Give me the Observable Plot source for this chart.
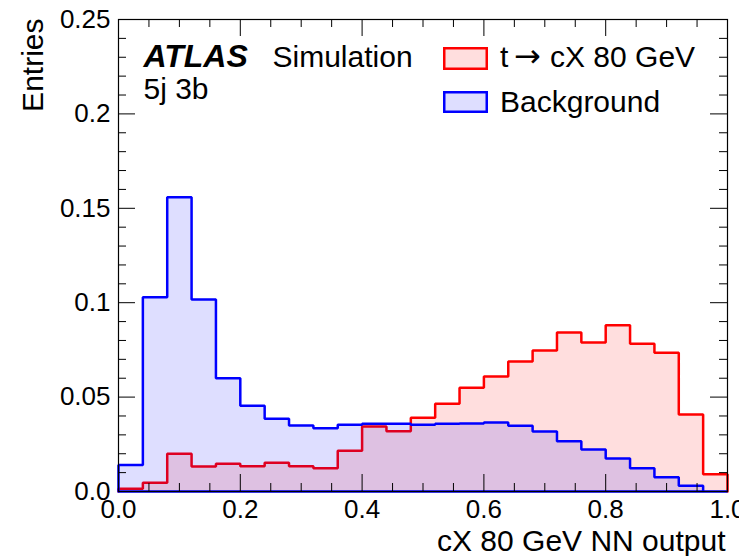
<!DOCTYPE html>
<html><head><meta charset="utf-8">
<script src="https://cdn.jsdelivr.net/npm/d3@7"></script>
<script src="https://cdn.jsdelivr.net/npm/@observablehq/plot@0.6"></script>
<style>
html,body{margin:0;padding:0;background:#fff;}
#chart{width:739px;height:556px;overflow:hidden;}
</style></head><body><div id="chart"></div>
<script>
// ---- data ----
const binLow = [0.00,0.04,0.08,0.12,0.16,0.20,0.24,0.28,0.32,0.36,0.40,0.44,0.48,0.52,0.56,0.60,0.64,0.68,0.72,0.76,0.80,0.84,0.88,0.92,0.96];
const binWidth = 0.04;
const signal = [0.0014,0.0046,0.0200,0.0132,0.0147,0.0134,0.0152,0.0134,0.0123,0.0216,0.0344,0.0319,0.0390,0.0465,0.0549,0.0609,0.0689,0.0747,0.0842,0.0789,0.0881,0.0782,0.0735,0.0408,0.0092];
const background = [0.0141,0.1029,0.1559,0.1017,0.0600,0.0454,0.0385,0.0350,0.0335,0.0353,0.0359,0.0359,0.0353,0.0359,0.0360,0.0365,0.0348,0.0318,0.0266,0.0222,0.0175,0.0123,0.0076,0.0030,0.0];
const seriesNames = [["t", "\u2192", "cX 80 GeV"], ["Background"]];
const xTickValues = [0,0.2,0.4,0.6,0.8,1.0];
const xTickLabels = ["0.0","0.2","0.4","0.6","0.8","1.0"];
const yTickValues = [0,0.05,0.1,0.15,0.2,0.25];
const yTickLabels = ["0.0","0.05","0.1","0.15","0.2","0.25"];
const xMinorStep = 0.05, yMinorStep = 0.01;

// ---- layout ----
const W = 739, H = 556, mL = 118, mR = 12, mT = 19, mB = 65;
const fW = W - mL - mR, fH = H - mT - mB;
const majorLen = 17, minorLen = 8;

function steps(values, close) {
  const pts = [{x: binLow[0], y: 0}];
  values.forEach((v, i) => {
    pts.push({x: binLow[i], y: v});
    pts.push({x: binLow[i] + binWidth, y: v});
  });
  pts.push({x: binLow[binLow.length - 1] + binWidth, y: 0});
  if (close) pts.push({x: binLow[0], y: 0});
  return pts;
}
const sigPts = steps(signal, false);
const bkgPts = steps(background, false);
const bkgLine = steps(background, true);

const xMinor = d3.range(0, 1 + 1e-9, xMinorStep).filter(v => !xTickValues.some(t => Math.abs(t - v) < 1e-9));
const yMinor = d3.range(0, 0.25 + 1e-9, yMinorStep).filter(v => !yTickValues.some(t => Math.abs(t - v) < 1e-9));

const RED = "#ff0000", BLUE = "#0000ff";
const FONT = "'Liberation Sans', Arial, Helvetica, sans-serif";

const txt = (s, o) => Plot.text([s], {text: d => d, frameAnchor: "top-left", textAnchor: "start", lineAnchor: "bottom", fontSize: 30, fill: "#000", ...o});

const plot = Plot.plot({
  width: W, height: H,
  marginLeft: mL, marginRight: mR, marginTop: mT, marginBottom: mB,
  style: {fontFamily: FONT, fontSize: "26px", color: "#000", background: "#fff"},
  x: {domain: [0, 1]},
  y: {domain: [0, 0.25]},
  marks: [
    Plot.area(sigPts, {x1: "x", y1: () => 0, y2: "y", fill: RED, fillOpacity: 0.13}),
    Plot.line(sigPts, {x: "x", y: "y", stroke: RED, strokeWidth: 2.5, strokeLinejoin: "miter"}),
    Plot.area(bkgPts, {x1: "x", y1: () => 0, y2: "y", fill: BLUE, fillOpacity: 0.13}),
    Plot.line(bkgLine, {x: "x", y: "y", stroke: BLUE, strokeWidth: 2.5, strokeLinejoin: "miter"}),
    // ticks inside frame, all four sides
    Plot.ruleX(xTickValues, {x: d => d, insetTop: fH - majorLen, stroke: "#000", strokeWidth: 1}),
    Plot.ruleX(xTickValues, {x: d => d, insetBottom: fH - majorLen, stroke: "#000", strokeWidth: 1}),
    Plot.ruleX(xMinor, {x: d => d, insetTop: fH - minorLen, stroke: "#000", strokeWidth: 1}),
    Plot.ruleX(xMinor, {x: d => d, insetBottom: fH - minorLen, stroke: "#000", strokeWidth: 1}),
    Plot.ruleY(yTickValues, {y: d => d, insetRight: fW - majorLen, stroke: "#000", strokeWidth: 1}),
    Plot.ruleY(yTickValues, {y: d => d, insetLeft: fW - majorLen, stroke: "#000", strokeWidth: 1}),
    Plot.ruleY(yMinor, {y: d => d, insetRight: fW - minorLen, stroke: "#000", strokeWidth: 1}),
    Plot.ruleY(yMinor, {y: d => d, insetLeft: fW - minorLen, stroke: "#000", strokeWidth: 1}),
    Plot.axisX(xTickValues, {tickSize: 0, tickPadding: 8, fontSize: 26, label: null,
      tickFormat: d => xTickLabels[xTickValues.indexOf(d)]}),
    Plot.axisY(yTickValues, {tickSize: 0, tickPadding: 8, fontSize: 26, label: null,
      tickFormat: d => yTickLabels[yTickValues.indexOf(d)]}),
    Plot.frame({stroke: "#000", strokeWidth: 1.2}),
    // annotations
    txt("ATLAS", {dx: 25, dy: 47, fontSize: 32, fontWeight: "bold", fontStyle: "italic"}),
    txt("Simulation", {dx: 154, dy: 47}),
    txt("5j 3b", {dx: 25, dy: 79}),
    txt("Entries", {dx: -76, dy: -1, rotate: -90, textAnchor: "end"}),
    Plot.text(["cX 80 GeV NN output"], {text: d => d, frameAnchor: "bottom-right", textAnchor: "end", lineAnchor: "bottom", dx: -2, dy: 59, fontSize: 30, fill: "#000"})
  ]
});

// legend
const svg = d3.select(plot);
const leg = svg.append("g").attr("font-family", FONT).attr("font-size", 30).attr("fill", "#000").attr("text-anchor", "start");
leg.append("rect").attr("x", 444.25).attr("y", 48.25).attr("width", 42.5).attr("height", 20.5)
  .attr("fill", RED).attr("fill-opacity", 0.13).attr("stroke", RED).attr("stroke-width", 2.5);
leg.append("rect").attr("x", 444.25).attr("y", 92.25).attr("width", 42.5).attr("height", 19.5)
  .attr("fill", BLUE).attr("fill-opacity", 0.13).attr("stroke", BLUE).attr("stroke-width", 2.5);
const t1 = leg.append("text").attr("x", 500).attr("y", 67).attr("text-anchor", "start");
t1.append("tspan").text(seriesNames[0][0]);
t1.append("tspan").attr("x", 514).attr("font-family", "'DejaVu Sans', sans-serif").attr("font-size", 32).text(seriesNames[0][1]);
t1.append("tspan").attr("x", 550).text(seriesNames[0][2]);
leg.append("text").attr("x", 500).attr("y", 112).attr("text-anchor", "start").text(seriesNames[1][0]);

document.getElementById("chart").appendChild(plot);
</script>
</body></html>
